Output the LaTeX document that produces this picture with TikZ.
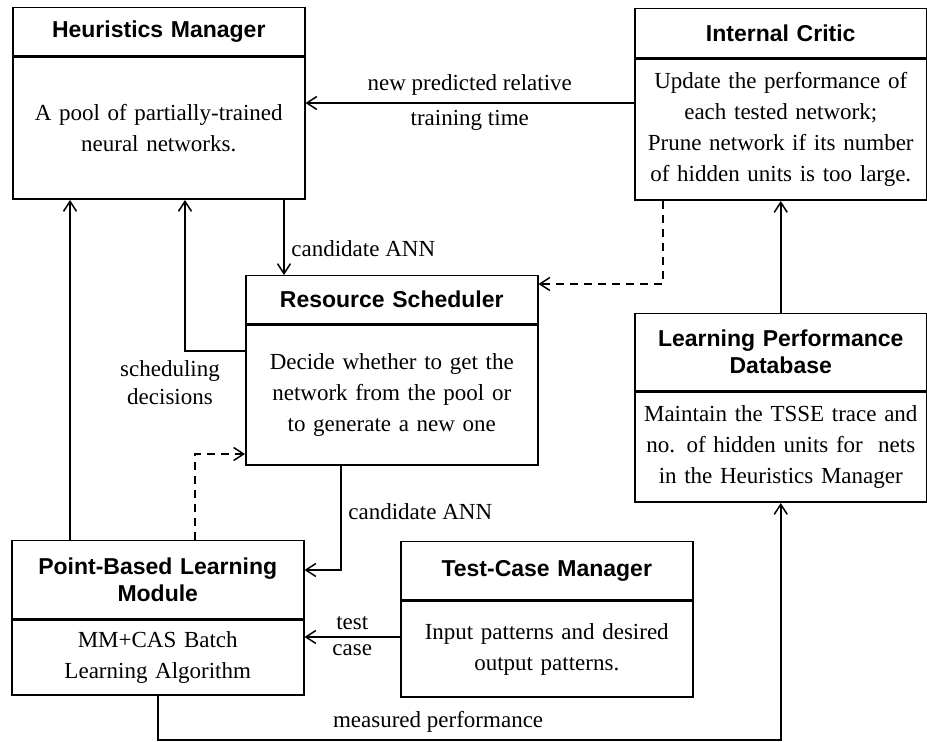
\documentclass[tikz,border=0pt]{standalone}
\usepackage{fontspec}
\setmainfont{Liberation Serif}
\setsansfont{Liberation Sans}
\usetikzlibrary{positioning, arrows.meta}

\tikzset{
    head/.style={draw, line width=0.75pt, anchor=north west, inner sep=0pt, text width=146pt, align=center, font=\fontsize{11.5}{13.5}\sffamily\bfseries\selectfont},
    body/.style={draw, line width=0.75pt, below=0pt of #1, inner sep=0pt, text width=146pt, align=center, font=\fontsize{11.5}{15.5}\selectfont},
    link/.style={line width=0.75pt, -{Straight Barb[length=5pt,width=6.5pt]}},
    dashlink/.style={link, dash pattern=on 4pt off 3pt},
    lbl/.style={font=\fontsize{11.5}{14}\selectfont, align=center},
}

\begin{document}
\begin{tikzpicture}[x=0.5pt, y=-0.5pt]
            \useasboundingbox (0,0) rectangle (927,742);

            \node[head, minimum height=24pt] (hmh) at (12,7) {Heuristics Manager};
            \node[body=hmh, minimum height=71pt] (hmb) {A pool of partially-trained\\neural networks.};
            \node[head, minimum height=24.5pt] (ich) at (634,8) {Internal Critic};
            \node[body=ich, minimum height=70.5pt] (icb) {Update the performance of\\each tested network;\\Prune network if its number\\of hidden units is too large.};
            \node[head, minimum height=24pt] (rsh) at (245,275) {Resource Scheduler};
            \node[body=rsh, minimum height=70pt] (rsb) {Decide whether to get the\\network from the pool or\\to generate a new one};
            \node[head, minimum height=38.5pt] (lpdh) at (634,313) {Learning Performance\\Database};
            \node[body=lpdh, minimum height=55pt] (lpdb) {Maintain the TSSE trace and\\no. of hidden units for\ \ nets\\in the Heuristics Manager};
            \node[head, minimum height=39pt] (pbh) at (11,540) {Point-Based Learning\\Module};
            \node[body=pbh, minimum height=37.5pt] (pbb) {MM+CAS Batch\\Learning Algorithm};
            \node[head, minimum height=29pt] (tch) at (400,541) {Test-Case Manager};
            \node[body=tch, minimum height=48pt] (tcb) {Input patterns and desired\\output patterns.};

            \draw[link] (icb.west |- 0,103) -- node[lbl, above] {new predicted relative} node[lbl, below] {training time} (hmb.east |- 0,103);
            \draw[link] (hmb.south -| 284,0) -- node[lbl, right, pos=0.65] {candidate ANN} (rsh.north -| 284,0);
            \draw[link] (rsb.west |- 0,351) -| node[lbl, pos=0.5, below=1pt, xshift=-7.5pt] {scheduling\\decisions} (hmb.south -| 185,0);
            \draw[dashlink] (icb.south -| 663,0) |- (rsh.east |- 0,284);
            \draw[link] (lpdh.north) -- (icb.south);
            \draw[link] (pbh.north -| 70,0) -- (hmb.south -| 70,0);
            \draw[dashlink] (pbh.north -| 195,0) |- (rsb.west |- 0,454);
            \draw[link] (rsb.south -| 341,0) |- node[lbl, pos=0.22, right] {candidate ANN} (pbh.east |- 0,570);
            \draw[link] (tcb.west |- 0,637) -- node[lbl, above] {test} node[lbl, below] {case} (pbb.east |- 0,637);
            \draw[link] (pbb.south) -- (pbb.south |- 0,740) -| node[lbl, pos=0.225, above] {measured performance} (lpdb.south);
\end{tikzpicture}
\end{document}
